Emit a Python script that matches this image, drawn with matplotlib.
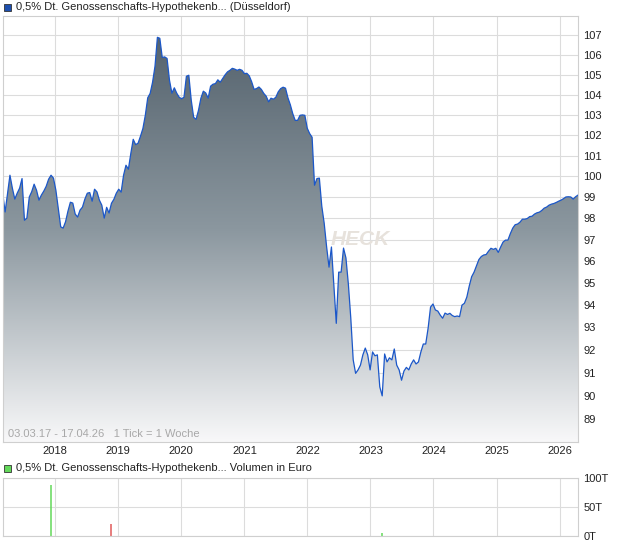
import numpy as np
import pandas as pd
import matplotlib
matplotlib.use('Agg')
import matplotlib.pyplot as plt
import matplotlib.dates as mdates
from matplotlib.colors import LinearSegmentedColormap
from matplotlib.patches import Rectangle
from matplotlib.ticker import FixedLocator, NullLocator

plt.rcParams['font.family'] = ['Liberation Sans', 'DejaVu Sans']

# Kurse (Düsseldorf), 14-Tage-Raster ab 03.03.17
p2017 = [99.18, 98.30, 99.19, 100.05, 99.43, 98.91, 99.19, 99.43, 99.89, 97.91, 98.01,
         99.01, 99.26, 99.62, 99.33, 98.86, 99.10, 99.29, 99.52, 99.86, 100.05, 99.91]
p2018 = [99.33, 98.47, 97.60, 97.54, 97.84, 98.34, 98.76, 98.72, 98.20, 98.06, 98.39, 98.53, 98.91,
         99.19, 99.22, 98.81, 99.38, 99.25, 98.86, 98.62, 98.01, 98.52, 98.25, 98.71, 98.90, 99.19]
p2019 = [99.38, 99.24, 100.05, 100.53, 100.34, 101.10, 101.79, 101.53, 101.60, 101.94, 102.32, 102.97, 103.84,
         104.06, 104.62, 105.42, 106.90, 106.85, 105.87, 105.90, 105.82, 104.72, 104.07, 104.34, 104.07, 103.87]
p2020 = [103.79, 103.87, 104.92, 104.97, 103.72, 102.87, 102.77, 103.22, 103.82, 104.17, 104.08, 103.82, 104.42,
         104.52, 104.55, 104.74, 104.62, 104.80, 104.99, 105.14, 105.22, 105.32, 105.28, 105.22, 105.27, 105.22]
p2021 = [105.05, 105.07, 104.94, 104.64, 104.26, 104.30, 104.38, 104.26, 104.06, 103.92, 103.64, 103.82, 103.77,
         103.87, 104.14, 104.30, 104.37, 104.32, 103.84, 103.49, 103.05, 102.72, 102.72, 102.97, 102.99, 102.97]
p2022 = [102.33, 102.07, 101.89, 99.57, 99.89, 99.91, 98.58, 97.77, 96.67, 95.73, 96.66, 94.91, 93.18,
         95.50, 95.50, 96.61, 96.15, 94.95, 93.42, 91.56, 90.97, 91.12, 91.33, 91.78, 92.08, 91.78]
p2023 = [91.12, 91.91, 91.74, 91.78, 90.38, 89.99, 91.82, 91.47, 91.65, 91.56, 92.04, 91.33, 91.12,
         90.67, 91.07, 91.23, 91.12, 91.38, 91.56, 91.38, 91.47, 91.91, 92.26, 92.26, 92.97, 93.91]
p2024 = [94.05, 93.78, 93.73, 93.55, 93.41, 93.64, 93.58, 93.63, 93.53, 93.48, 93.51, 93.48, 94.00,
         94.08, 94.36, 94.86, 95.29, 95.50, 95.79, 96.08, 96.22, 96.29, 96.31, 96.47, 96.60, 96.55]
p2025 = [96.60, 96.41, 96.66, 96.89, 96.98, 96.98, 97.28, 97.54, 97.70, 97.73, 97.82, 97.96, 97.96,
         97.99, 98.08, 98.10, 98.20, 98.26, 98.29, 98.37, 98.48, 98.53, 98.62, 98.67, 98.70, 98.75]
p2026 = [98.81, 98.86, 98.93, 99.01, 99.02, 99.01, 98.91, 99.02, 99.10]

# Umsatz in Euro
vol_datum = ['2017-12-08', '2018-11-23', '2023-03-10']
vol_wert = [87000, 20000, 5000]
vol_farbe = ['#63d85a', '#e05a5a', '#63d85a']

jahre = list(range(2018, 2027))
kurs_ticks = list(range(89, 108))

kurs = np.array(p2017 + p2018 + p2019 + p2020 + p2021 + p2022 + p2023 + p2024 + p2025 + p2026)
datum = pd.date_range('2017-03-03', '2026-04-17', freq='14D')

W, H = 620, 546


def box(x0, y0, x1, y1):
    return [x0 / W, 1 - y1 / H, (x1 - x0) / W, (y1 - y0) / H]


fig = plt.figure(figsize=(W / 100, H / 100), dpi=100)
ax = fig.add_axes(box(2.7, 16, 578, 441.5))
axv = fig.add_axes(box(2.7, 477.5, 578, 536))

# --- Kurschart ---
ax.set_yscale('log')
ax.set_xlim(datum[0], datum[-1])
poly = ax.fill_between(datum, kurs, 80, color='none', lw=0)
ax.set_ylim(88.04, 108)

cmap = LinearSegmentedColormap.from_list('verlauf', ['#4f5d68', '#8b979f', '#f8f8f9'])
grad = np.linspace(0, 1, 256).reshape(-1, 1)
img = ax.imshow(grad, cmap=cmap, extent=[0, 1, 0, 1], transform=ax.transAxes,
                aspect='auto', origin='upper', zorder=1, interpolation='bilinear')
img.set_clip_path(poly.get_paths()[0], ax.transData)
ax.plot(datum, kurs, color='#1b57c9', lw=0.9, zorder=2)

ax.text(0.621, 0.474, 'HECK', transform=ax.transAxes, fontsize=15, fontweight='bold',
        fontstyle='italic', color='#e7e2dc', ha='center', va='center', zorder=0.8)
ax.text(0.0092, 0.0176, '03.03.17 - 17.04.26   1 Tick = 1 Woche', transform=ax.transAxes,
        fontsize=8, color='#a8a8a8', va='center', zorder=3)

ax.yaxis.set_major_locator(FixedLocator(kurs_ticks))
ax.yaxis.set_minor_locator(NullLocator())
ax.set_yticklabels([str(t) for t in kurs_ticks])
ax.yaxis.tick_right()
ax.xaxis.set_major_locator(FixedLocator([mdates.date2num(pd.Timestamp(f'{j}-01-01')) for j in jahre]))
ax.set_xticklabels([str(j) for j in jahre])

for a in (ax, axv):
    a.set_axisbelow(True)
    a.grid(True, color='#dcdcdc', lw=0.8)
    a.tick_params(length=0, labelsize=8, colors='#222222')
    a.tick_params(axis='y', pad=4)
    a.tick_params(axis='x', pad=3)
    for s in a.spines.values():
        s.set_color('#cfcfcf')
        s.set_linewidth(0.8)

# --- Volumen ---
axv.set_xlim(datum[0], datum[-1])
axv.vlines(pd.to_datetime(vol_datum), 0, vol_wert, colors=vol_farbe, lw=1.1, zorder=2)
axv.set_ylim(0, 100000)
axv.yaxis.tick_right()
axv.set_yticks([0, 50000, 100000])
axv.set_yticklabels(['0T', '50T', '100T'])
axv.xaxis.set_major_locator(FixedLocator([mdates.date2num(pd.Timestamp(f'{j}-01-01')) for j in jahre]))
axv.set_xticklabels([])

# --- Legenden ---
fig.patches.append(Rectangle((4 / W, 1 - 11 / H), 7 / W, 7 / H, transform=fig.transFigure,
                             facecolor='#1d4fae', edgecolor='#333333', lw=0.6))
fig.text(16 / W, 1 - 7 / H, '0,5% Dt. Genossenschafts-Hypothekenb... (Düsseldorf)',
         fontsize=8, va='center', color='#222222')
fig.patches.append(Rectangle((4 / W, 1 - 472 / H), 7 / W, 7 / H, transform=fig.transFigure,
                             facecolor='#63d85a', edgecolor='#333333', lw=0.6))
fig.text(16 / W, 1 - 468 / H, '0,5% Dt. Genossenschafts-Hypothekenb... Volumen in Euro',
         fontsize=8, va='center', color='#222222')

fig.savefig('out.png', dpi=100)
